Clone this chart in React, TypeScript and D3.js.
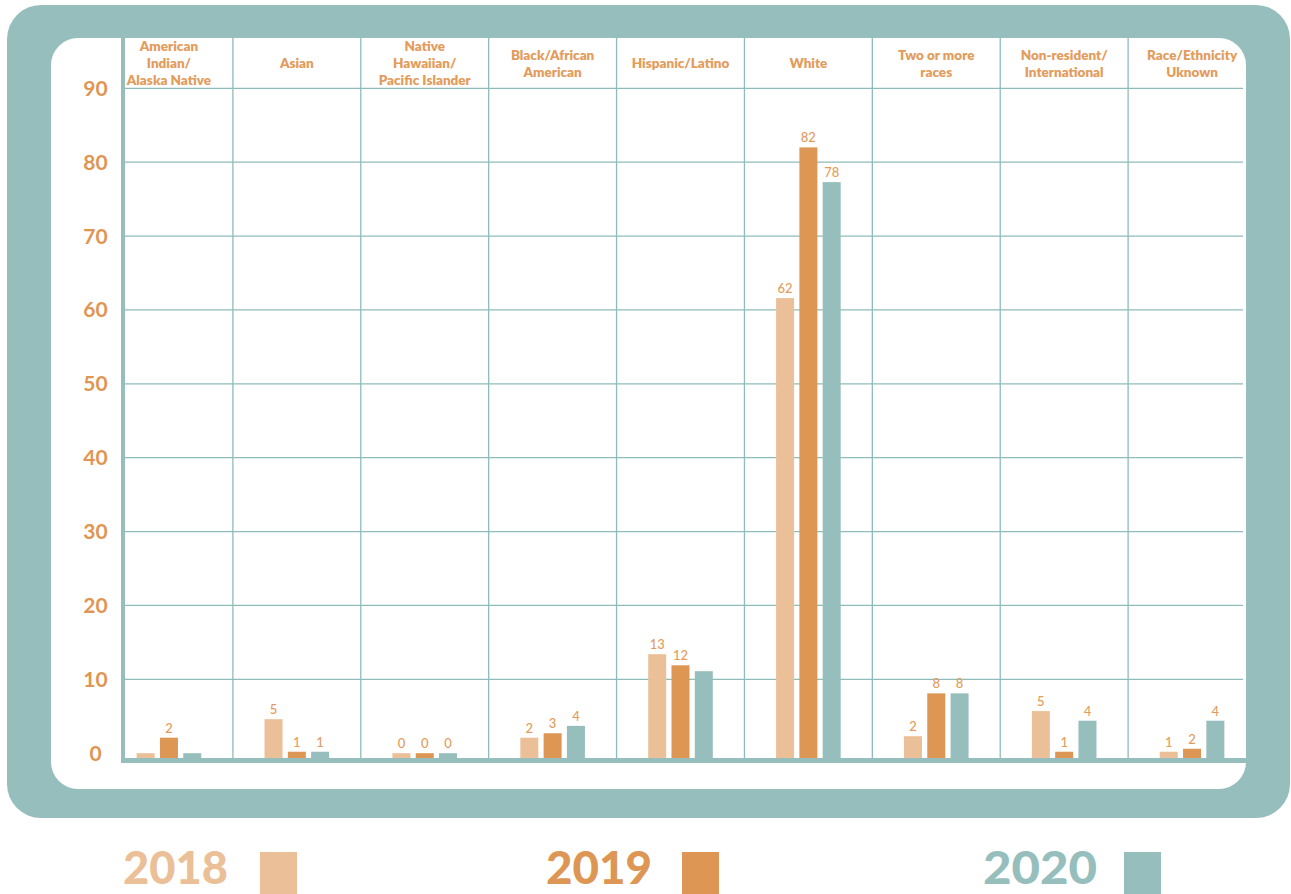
import React from "react";
import * as d3 from "d3";

const categories = [
  "American\nIndian/\nAlaska Native",
  "Asian",
  "Native\nHawaiian/\nPacific Islander",
  "Black/African\nAmerican",
  "Hispanic/Latino",
  "White",
  "Two or more\nraces",
  "Non-resident/\nInternational",
  "Race/Ethnicity\nUknown",
];
const years = ["2018", "2019", "2020"];
const values2018 = [0, 4.6, 0, 2.1, 13.4, 61.6, 2.3, 5.7, 0.2];
const values2019 = [2.1, 0.2, 0, 2.7, 11.9, 82.0, 8.1, 0.2, 0.6];
const values2020 = [0, 0.2, 0, 3.7, 11.1, 77.3, 8.1, 4.4, 4.4];
const labels2018 = ["", "5", "0", "2", "13", "62", "2", "5", "1"];
const labels2019 = ["2", "1", "0", "3", "12", "82", "8", "1", "2"];
const labels2020 = ["", "1", "0", "4", "", "78", "8", "4", "4"];
const yTicks = [0, 10, 20, 30, 40, 50, 60, 70, 80, 90];

const seriesValues = [values2018, values2019, values2020];
const seriesLabels = [labels2018, labels2019, labels2020];
const colors = ["#EBBF97", "#DD9653", "#96BEBD"];
const teal = "#96BEBD";
const grid = "#8EBCBA";
const orange = "#DF9652";
const labelOrange = "#E39C5C";

const W = 1291;
const H = 894;

export default function App() {
  const x = d3.scaleBand<string>().domain(categories).range([105, 1256]).paddingInner(0);
  const xi = d3.scaleBand<string>().domain(years).range([-32.3, 32.3]).paddingInner(0.227);
  const y = d3.scaleLinear().domain([0, 90]).range([753.2, 88.3]);

  const axisY = 760.5;
  const axisX = 123;
  const gridRight = 1243;
  const panelTop = 38;

  const legendX = [123, 546, 983];
  const legendW = [105, 106, 114];
  const legendSq = [260, 682, 1124];

  return (
    <svg
      width={W}
      height={H}
      style={{ position: "absolute", left: 0, top: 0, display: "block" }}
      fontFamily="Lato, 'Open Sans', sans-serif"
    >
      <rect x={0} y={0} width={W} height={H} fill="#ffffff" />
      {/* outer frame */}
      <rect x={7} y={5} width={1283} height={813} rx={34} ry={34} fill={teal} />
      {/* inner panel */}
      <rect x={51} y={38} width={1195} height={751} rx={27} ry={27} fill="#ffffff" />

      {/* horizontal gridlines */}
      {yTicks
        .filter((t) => t > 0)
        .map((t) => (
          <line key={"g" + t} x1={axisX} x2={gridRight} y1={y(t)} y2={y(t)} stroke={grid} strokeWidth={1.3} />
        ))}
      {/* vertical separators */}
      {categories.slice(1).map((c) => (
        <line
          key={"v" + c}
          x1={x(c)!}
          x2={x(c)!}
          y1={panelTop}
          y2={axisY}
          stroke={grid}
          strokeWidth={1.3}
        />
      ))}

      {/* headers */}
      {categories.map((c) => {
        const lines = c.split("\n");
        const cx = x(c)! + x.bandwidth() / 2;
        const base = 68 - ((lines.length - 1) * 17) / 2;
        return (
          <text
            key={"h" + c}
            x={cx}
            textAnchor="middle"
            fill={labelOrange}
            fontSize={13.5}
            fontWeight={800}
          >
            {lines.map((l, i) => (
              <tspan key={i} x={cx} y={base + i * 17}>
                {l}
              </tspan>
            ))}
          </text>
        );
      })}

      {/* bars */}
      {categories.map((c, ci) =>
        years.map((yr, si) => {
          const v = seriesValues[si][ci];
          const top = Math.min(y(v), axisY - 3.5);
          const bx = x(c)! + x.bandwidth() / 2 + xi(yr)!;
          return (
            <rect
              key={"b" + ci + "-" + si}
              x={bx}
              y={top}
              width={xi.bandwidth()}
              height={axisY - top}
              fill={colors[si]}
            />
          );
        })
      )}

      {/* value labels */}
      {categories.map((c, ci) =>
        years.map((yr, si) => {
          const lab = seriesLabels[si][ci];
          if (!lab) return null;
          const v = seriesValues[si][ci];
          const top = Math.min(y(v), axisY - 3.5);
          const bx = x(c)! + x.bandwidth() / 2 + xi(yr)! + xi.bandwidth() / 2;
          return (
            <text
              key={"l" + ci + "-" + si}
              x={bx}
              y={Math.min(top - 5, 751)}
              textAnchor="middle"
              fill={labelOrange}
              fontSize={13}
              fontWeight={500}
            >
              {lab}
            </text>
          );
        })
      )}

      {/* axes */}
      <line x1={axisX} x2={axisX} y1={panelTop} y2={axisY + 2.5} stroke={teal} strokeWidth={4} />
      <line x1={axisX - 2} x2={1246} y1={axisY} y2={axisY} stroke={teal} strokeWidth={5} />

      {/* y tick labels */}
      {yTicks.map((t) => (
        <text
          key={"t" + t}
          x={95.5}
          y={y(t)}
          dy="0.36em"
          textAnchor="middle"
          fill={orange}
          fontSize={21}
          fontWeight={700}
        >
          {t}
        </text>
      ))}

      {/* legend */}
      {years.map((yr, i) => (
        <g key={"lg" + yr}>
          <text
            x={legendX[i]}
            y={884}
            fill={colors[i]}
            fontSize={46}
            fontWeight={900}
            textLength={legendW[i]}
            lengthAdjust="spacingAndGlyphs"
          >
            {yr}
          </text>
          <rect x={legendSq[i]} y={852} width={37} height={42} fill={colors[i]} />
        </g>
      ))}
    </svg>
  );
}
